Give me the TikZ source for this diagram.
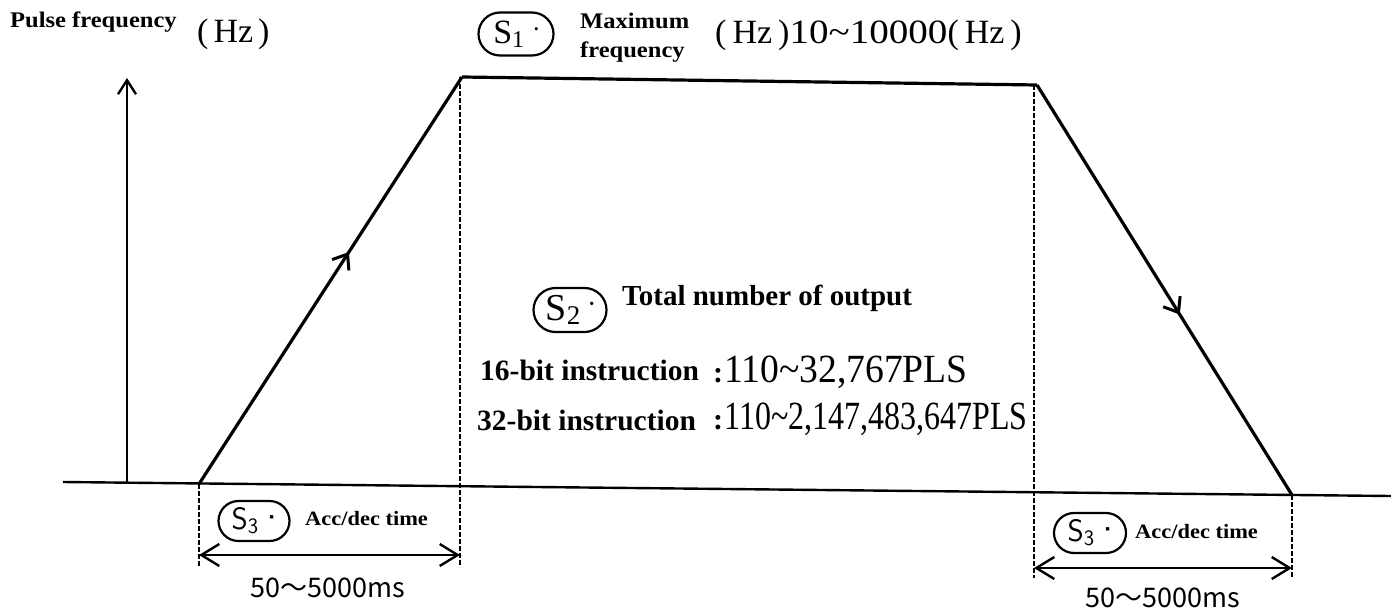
\documentclass[tikz,border=0pt]{standalone}
\usepackage{fontspec}
\setmainfont{Liberation Serif}
\newfontfamily\lblf{Liberation Serif}[FakeStretch=1.1]
\newfontfamily\lblg{Liberation Serif}
\newfontfamily\widef{Liberation Serif}[FakeStretch=1.15]
\newfontfamily\numa{Liberation Serif}[FakeStretch=0.94]
\newfontfamily\numb{Liberation Serif}[FakeStretch=0.8]
\newfontfamily\cjkf{Noto Sans CJK SC}
\usetikzlibrary{arrows.meta,decorations.markings,shapes.misc}
\newcommand\ovsub[2]{\raisebox{-0.12em}{\fontsize{#1}{#1}\selectfont #2}}
\newcommand\ovdot[1]{\raisebox{0.3em}{\fontsize{#1}{#1}\selectfont •}}
\tikzset{
  thick line/.style={line width=3.2pt, line join=miter},
  axisline/.style={line width=2.4pt},
  dashline/.style={line width=2pt, dash pattern=on 5pt off 2pt},
  dimarrow/.style={line width=2.4pt, {Straight Barb[length=18pt,width=22pt]}-{Straight Barb[length=18pt,width=22pt]}},
  midarrow/.style={postaction={decorate}, decoration={markings, mark=at position #1 with {\arrow{Straight Barb[length=13pt,width=20pt,line width=3pt]}}}},
  oval/.style={draw, line width=2.2pt, rounded rectangle, inner sep=1pt},
  lbl/.style={inner sep=0pt, anchor=base west},
}
\begin{document}
\begin{tikzpicture}[x=1pt,y=-1pt]
\useasboundingbox (0,0) rectangle (1391,610);
\fill[white] (0,0) rectangle (1391,610);
% key points
\coordinate (bl) at (63,482);
\coordinate (br) at (1391,496);
\coordinate (f1) at (199,484);
\coordinate (t1) at (462,77);
\coordinate (t2) at (1037,85);
\coordinate (f2) at (1292,495);
\coordinate (ax0) at (127,483);
\coordinate (ax1) at (127,78);
\coordinate (d1) at (199,567);
\coordinate (d2) at (460,567);
\coordinate (d2t) at (460,77);
\coordinate (d3t) at (1034,85);
\coordinate (d3) at (1034,578);
\coordinate (d4) at (1292,578);
\coordinate (a1) at (199,555);
\coordinate (a2) at (460,555);
\coordinate (a3) at (1034,568);
\coordinate (a4) at (1292,568);
% baseline and axis
\draw[axisline] (bl) -- (br);
\draw[axisline, -{Straight Barb[length=14pt,width=18pt]}] (ax0) -- (ax1);
% trapezoid
\draw[thick line, midarrow=0.57] (f1) -- (t1);
\draw[thick line] (t1) -- (t2);
\draw[thick line, midarrow=0.56] (t2) -- (f2);
% dashed guides
\draw[dashline] (f1) -- (d1);
\draw[dashline] (d2t) -- (d2);
\draw[dashline] (d3t) -- (d3);
\draw[dashline] (f2) -- (d4);
% dimension arrows
\draw[dimarrow] (a1) -- (a2);
\draw[dimarrow] (a3) -- (a4);
% texts top
\node[lbl, font=\lblf\bfseries\fontsize{22.3}{22.3}\selectfont] (pf) at (10,28) {Pulse frequency};
\node[lbl, font=\fontsize{34}{34}\selectfont] (hz1) at (197,43) {(\hspace{5pt}Hz\hspace{5pt})};
\node[oval, minimum width=77pt, minimum height=43pt, font=\fontsize{34}{34}\selectfont] (s1) at (516,34) {S\ovsub{24}{1}\hspace{10pt}\ovdot{13}};
\node[lbl, font=\lblf\bfseries\fontsize{22.3}{22.3}\selectfont] (mx) at (580,29) {Maximum};
\node[lbl, font=\lblf\bfseries\fontsize{22.3}{22.3}\selectfont] (fq) at (580,57) {frequency};
\node[lbl, font=\fontsize{34}{34}\selectfont] (range) at (715,44) {(\hspace{6pt}Hz\hspace{6pt}){\widef\fontsize{34}{34}\selectfont 10\textasciitilde10000}(\hspace{6pt}Hz\hspace{6pt})};
% middle texts
\node[oval, minimum width=75pt, minimum height=44pt, font=\fontsize{38}{38}\selectfont] (s2) at (570,310) {S\ovsub{27}{2}\hspace{9pt}\ovdot{14}};
\node[lbl, font=\lblg\bfseries\fontsize{29}{29}\selectfont] (tn) at (622,305) {Total number of output};
\node[lbl, font=\lblg\bfseries\fontsize{29.5}{29.5}\selectfont] (b16) at (480,380) {16-bit instruction};
\node[lbl, font=\numa\fontsize{40}{40}\selectfont] (v16) at (713,382) {{\lblg\bfseries\fontsize{30}{30}\selectfont:}\hspace{1pt}110\textasciitilde32,767PLS};
\node[lbl, font=\lblg\bfseries\fontsize{29.5}{29.5}\selectfont] (b32) at (477,430) {32-bit instruction};
\node[lbl, font=\numb\fontsize{40}{40}\selectfont] (v32) at (713,429) {{\lblg\bfseries\fontsize{30}{30}\selectfont:}\hspace{1pt}110\textasciitilde2,147,483,647PLS};
% bottom left
\node[oval, minimum width=73pt, minimum height=40pt, font=\sffamily\fontsize{31}{31}\selectfont] (s3a) at (254,521) {S\ovsub{22}{3}\hspace{9pt}\ovdot{12}};
\node[lbl, font=\lblf\bfseries\fontsize{20.4}{20.4}\selectfont] (ada) at (305,525) {Acc/dec time};
\node[inner sep=0pt, anchor=base, font=\cjkf\fontsize{27}{27}\selectfont] (msa) at (328,597) {50～5000ms};
% bottom right
\node[oval, minimum width=74pt, minimum height=40pt, font=\sffamily\fontsize{31}{31}\selectfont] (s3b) at (1090,533) {S\ovsub{22}{3}\hspace{9pt}\ovdot{12}};
\node[lbl, font=\lblf\bfseries\fontsize{20.4}{20.4}\selectfont] (adb) at (1135,538) {Acc/dec time};
\node[inner sep=0pt, anchor=base, font=\cjkf\fontsize{27}{27}\selectfont] (msb) at (1163,607) {50～5000ms};
\end{tikzpicture}
\end{document}
